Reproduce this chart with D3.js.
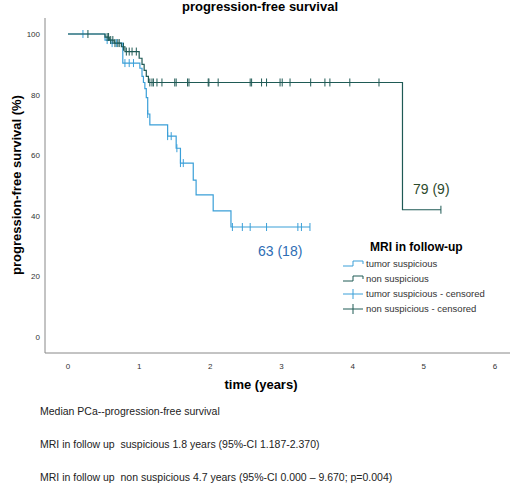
<!DOCTYPE html>
<html><head><meta charset="utf-8">
<script src="https://cdn.jsdelivr.net/npm/d3@7"></script>
<style>body{margin:0;background:#fff;font-family:"Liberation Sans",Arial,sans-serif} text{white-space:pre}</style>
</head><body><div id="chart"></div>
<script>
// step curves (time in years, survival %)
const suspTimes = [0, 0.52, 0.6, 0.77, 1.01, 1.04, 1.06, 1.08, 1.1, 1.12, 1.15, 1.4, 1.52, 1.58, 1.76, 1.8, 2.04, 2.29, 3.4]
const suspValues = [100, 98, 97, 90.4, 88.7, 86, 84, 82, 79, 73.6, 70, 66.3, 62.3, 57.4, 51.8, 46.9, 41.6, 36.3, 36.3]
const nonTimes = [0, 0.52, 0.58, 0.65, 0.75, 0.8, 1.0, 1.04, 1.07, 1.1, 1.13, 4.7, 5.24]
const nonValues = [100, 99, 98, 97, 95.8, 94.2, 92, 90, 88, 86, 84, 42, 42]
// censored observations
const suspCensor = [0.21, 0.55, 0.62, 0.68, 0.8, 0.86, 0.92, 1.12, 1.4, 1.45, 1.53, 1.58, 1.62, 2.31, 2.45, 2.56, 2.79, 3.23, 3.28, 3.4]
const nonCensor = [0.28, 0.55, 0.57, 0.6, 0.63, 0.66, 0.7, 0.72, 0.78, 0.82, 0.86, 0.9, 0.96, 1.15, 1.18, 1.2, 1.25, 1.32, 1.5, 1.52, 1.68, 1.7, 1.97, 1.98, 2.11, 2.56, 2.58, 2.72, 2.79, 2.98, 3.01, 3.12, 3.41, 3.61, 3.68, 3.96, 4.37, 5.24]
const xTicks = [0, 1, 2, 3, 4, 5, 6]
const yTicks = [0, 20, 40, 60, 80, 100]
const legendLabels = ['tumor suspicious', 'non suspicious', 'tumor suspicious - censored', 'non suspicious - censored']
const notes = ['Median PCa--progression-free survival',
  'MRI in follow up  suspicious 1.8 years (95%-CI 1.187-2.370)',
  'MRI in follow up  non suspicious 4.7 years (95%-CI 0.000 \u2013 9.670; p=0.004)']

const W = 520, H = 485
const blue = '#3a9fd8', dark = '#1f5a55'
const svg = d3.select('#chart').append('svg').attr('width', W).attr('height', H)

const x = d3.scaleLinear().domain([0, 6]).range([68, 495])
const y = d3.scaleLinear().domain([0, 100]).range([337, 34])

// axes frame
svg.append('line').attr('x1', 45).attr('x2', 45).attr('y1', 18).attr('y2', 353).attr('stroke', '#888')
svg.append('line').attr('x1', 45).attr('x2', 510).attr('y1', 353).attr('y2', 353).attr('stroke', '#888')

svg.selectAll('.xt').data(xTicks).enter().append('text')
  .attr('x', d => x(d)).attr('y', 369).attr('text-anchor', 'middle')
  .attr('font-size', 8).attr('fill', '#333').text(d => d)
svg.selectAll('.yt').data(yTicks).enter().append('text')
  .attr('x', 40).attr('y', d => y(d) + 3).attr('text-anchor', 'end')
  .attr('font-size', 8).attr('fill', '#333').text(d => d)

svg.append('text').attr('x', 260).attr('y', 11).attr('text-anchor', 'middle')
  .attr('font-size', 13).attr('font-weight', 'bold').text('progression-free survival')
svg.append('text').attr('x', 261).attr('y', 389).attr('text-anchor', 'middle')
  .attr('font-size', 13).attr('font-weight', 'bold').text('time (years)')
svg.append('text').attr('transform', 'translate(21,185)rotate(-90)').attr('text-anchor', 'middle')
  .attr('font-size', 13).attr('font-weight', 'bold').text('progression-free survival (%)')

const line = d3.line().x(d => x(d[0])).y(d => y(d[1])).curve(d3.curveStepAfter)
const curves = [
  { t: suspTimes, v: suspValues, c: suspCensor, col: blue },
  { t: nonTimes, v: nonValues, c: nonCensor, col: dark }
]
// survival at time t for censor marks
const survAt = (cv, t) => { let s = cv.v[0]; cv.t.forEach((tt, i) => { if (tt <= t) s = cv.v[i] }); return s }

curves.forEach(cv => {
  svg.append('path').datum(cv.t.map((t, i) => [t, cv.v[i]]))
    .attr('d', line).attr('fill', 'none').attr('stroke', cv.col).attr('stroke-width', 1.2)
  svg.selectAll(null).data(cv.c).enter().append('line')
    .attr('x1', d => x(d)).attr('x2', d => x(d))
    .attr('y1', d => y(survAt(cv, d)) - 4).attr('y2', d => y(survAt(cv, d)) + 4)
    .attr('stroke', cv.col).attr('stroke-width', 1)
})

svg.append('text').attr('x', 258).attr('y', 256).attr('font-size', 14).attr('fill', '#2e6db4').text('63 (18)')
svg.append('text').attr('x', 413).attr('y', 194).attr('font-size', 14).attr('fill', '#2d4a2d').text('79 (9)')

// legend
svg.append('text').attr('x', 370).attr('y', 251).attr('font-size', 12).attr('font-weight', 'bold').text('MRI in follow-up')
legendLabels.forEach((lab, i) => {
  const ly = 264 + i * 15, col = i % 2 === 0 ? blue : dark
  if (i < 2) {
    svg.append('path').attr('d', `M343,${ly + 2}H353V${ly - 3}H363V${ly}`).attr('fill', 'none').attr('stroke', col)
  } else {
    svg.append('line').attr('x1', 343).attr('x2', 363).attr('y1', ly).attr('y2', ly).attr('stroke', col)
    svg.append('line').attr('x1', 353).attr('x2', 353).attr('y1', ly - 5).attr('y2', ly + 5).attr('stroke', col)
  }
  svg.append('text').attr('x', 366).attr('y', ly + 3).attr('font-size', 9.5).attr('fill', '#333').text(lab)
})

svg.selectAll('.note').data(notes).enter().append('text')
  .attr('x', 40).attr('y', (d, i) => 415 + i * 33).attr('font-size', 10.5).attr('fill', '#222').text(d => d)
</script></body></html>
